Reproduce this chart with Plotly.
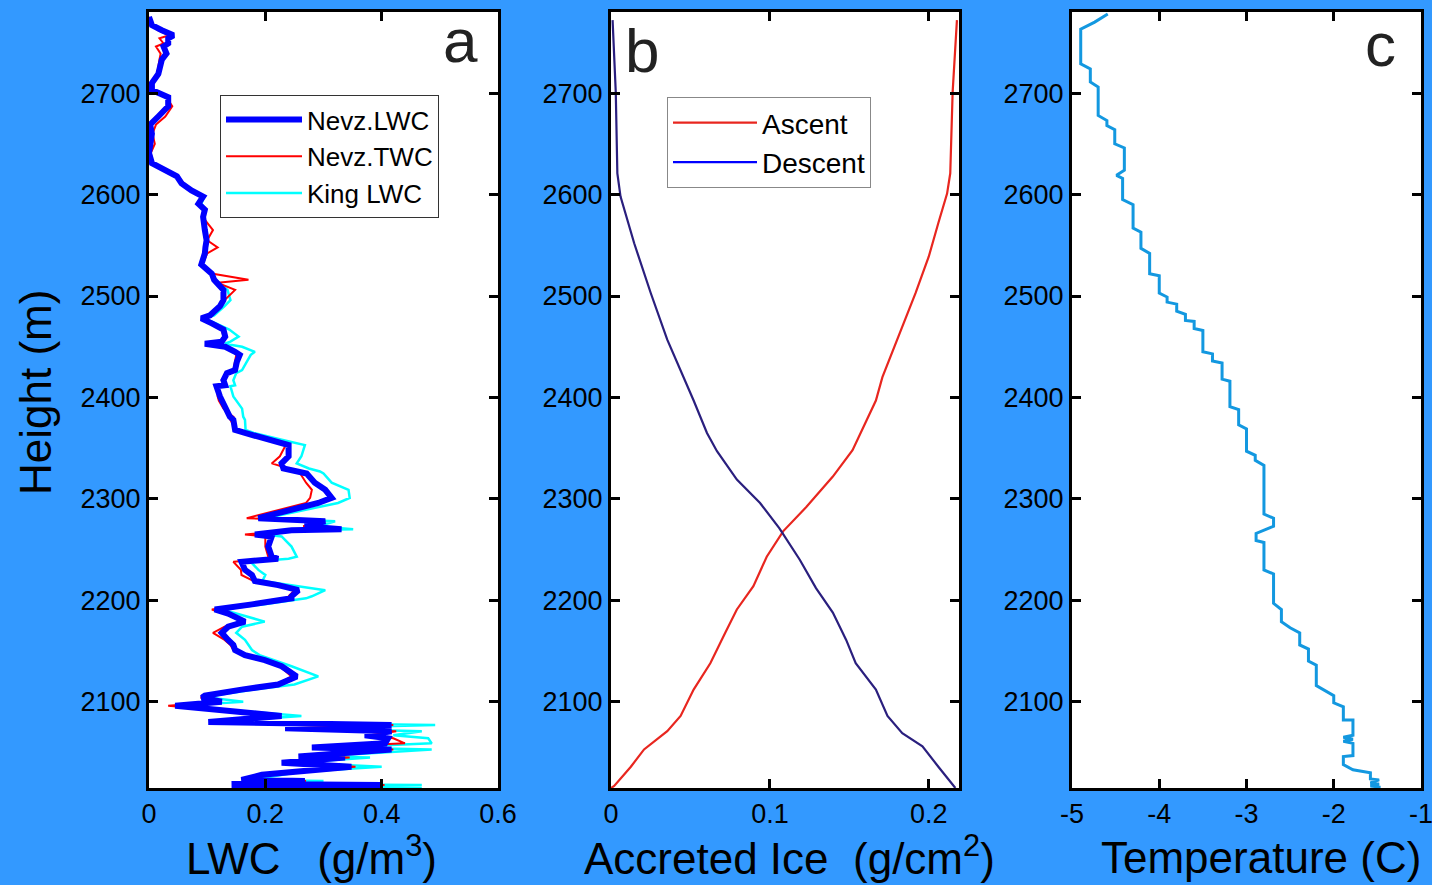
import plotly.graph_objects as go

# ---------------- Panel a : LWC profiles ----------------
lwc_height = [2775, 2767, 2762, 2757, 2754, 2749, 2746, 2739, 2733, 2719, 2710, 2703, 2696, 2687, 2677,
              2669, 2660, 2650, 2641, 2631, 2624, 2618, 2611, 2604, 2598, 2591, 2585, 2578, 2565, 2555,
              2548, 2542, 2531, 2522, 2516, 2513, 2506, 2496, 2490, 2481, 2478, 2473, 2467, 2460, 2455,
              2453, 2450, 2445, 2442, 2435, 2427, 2424, 2417, 2412, 2411, 2401, 2397, 2389, 2381, 2378,
              2368, 2365, 2358, 2353, 2342, 2335, 2330, 2327, 2325, 2316, 2309, 2301, 2296, 2281, 2278,
              2273, 2270, 2269, 2265, 2263, 2253, 2243, 2241, 2238, 2230, 2225, 2219, 2215, 2210, 2204,
              2202, 2196, 2191, 2187, 2179, 2174, 2168, 2161, 2156, 2151, 2146, 2141, 2135, 2125, 2117,
              2112, 2106, 2104, 2100, 2096, 2091, 2086, 2080, 2079, 2077, 2074, 2071, 2067, 2064, 2059,
              2055, 2053, 2046, 2045, 2040, 2036, 2031, 2028, 2023, 2022, 2019, 2018, 2017, 2015]
nevz_lwc = [0.000, 0.005, 0.022, 0.042, 0.033, 0.033, 0.025, 0.030, 0.022, 0.016, 0.005, 0.005, 0.033, 0.033, 0.016,
            0.002, 0.005, 0.002, 0.000, 0.005, 0.028, 0.048, 0.056, 0.073, 0.093, 0.085, 0.096, 0.093, 0.096, 0.099,
            0.097, 0.096, 0.090, 0.108, 0.112, 0.116, 0.128, 0.128, 0.122, 0.105, 0.090, 0.108, 0.128, 0.131, 0.125,
            0.096, 0.131, 0.148, 0.156, 0.151, 0.148, 0.134, 0.128, 0.131, 0.116, 0.122, 0.125, 0.131, 0.139, 0.145,
            0.148, 0.165, 0.211, 0.240, 0.240, 0.228, 0.231, 0.257, 0.271, 0.285, 0.303, 0.314, 0.291, 0.188, 0.303,
            0.268, 0.331, 0.245, 0.182, 0.211, 0.205, 0.211, 0.222, 0.159, 0.165, 0.177, 0.182, 0.222, 0.257, 0.245,
            0.245, 0.177, 0.113, 0.136, 0.165, 0.136, 0.125, 0.136, 0.145, 0.148, 0.165, 0.199, 0.228, 0.254, 0.222,
            0.159, 0.096, 0.091, 0.125, 0.045, 0.136, 0.228, 0.102, 0.234, 0.417, 0.234, 0.417, 0.371, 0.411, 0.406,
            0.280, 0.417, 0.257, 0.337, 0.228, 0.348, 0.234, 0.194, 0.159, 0.268, 0.142, 0.400, 0.142, 0.400]
nevz_twc = [0.000, 0.008, 0.015, 0.035, 0.018, 0.025, 0.012, 0.020, 0.018, 0.014, 0.004, 0.006, 0.030, 0.040, 0.028,
            0.012, 0.006, 0.010, 0.003, 0.006, 0.030, 0.050, 0.060, 0.072, 0.095, 0.088, 0.098, 0.092, 0.110, 0.100,
            0.118, 0.100, 0.092, 0.110, 0.171, 0.118, 0.148, 0.130, 0.122, 0.108, 0.092, 0.110, 0.125, 0.128, 0.122,
            0.100, 0.128, 0.145, 0.150, 0.148, 0.145, 0.135, 0.125, 0.130, 0.118, 0.118, 0.120, 0.128, 0.145, 0.140,
            0.150, 0.170, 0.210, 0.235, 0.225, 0.211, 0.240, 0.251, 0.260, 0.270, 0.280, 0.277, 0.270, 0.168, 0.300,
            0.265, 0.330, 0.240, 0.165, 0.200, 0.200, 0.205, 0.215, 0.145, 0.158, 0.159, 0.180, 0.220, 0.250, 0.240,
            0.245, 0.175, 0.108, 0.130, 0.160, 0.130, 0.110, 0.130, 0.140, 0.145, 0.160, 0.195, 0.225, 0.245, 0.220,
            0.160, 0.091, 0.090, 0.120, 0.033, 0.135, 0.225, 0.105, 0.240, 0.420, 0.240, 0.425, 0.380, 0.420, 0.440,
            0.285, 0.420, 0.265, 0.345, 0.235, 0.355, 0.240, 0.200, 0.165, 0.270, 0.145, 0.405, 0.145, 0.400]
king_lwc = [0.000, 0.005, 0.022, 0.042, 0.033, 0.033, 0.025, 0.030, 0.022, 0.016, 0.005, 0.005, 0.032, 0.033, 0.016,
            0.002, 0.004, 0.002, 0.000, 0.004, 0.026, 0.046, 0.055, 0.073, 0.095, 0.090, 0.097, 0.094, 0.097, 0.100,
            0.098, 0.097, 0.088, 0.110, 0.114, 0.120, 0.135, 0.140, 0.130, 0.112, 0.095, 0.115, 0.138, 0.154, 0.140,
            0.130, 0.160, 0.182, 0.175, 0.168, 0.160, 0.150, 0.145, 0.148, 0.140, 0.145, 0.150, 0.160, 0.162, 0.165,
            0.166, 0.180, 0.230, 0.268, 0.262, 0.254, 0.275, 0.294, 0.300, 0.314, 0.343, 0.345, 0.325, 0.200, 0.320,
            0.290, 0.351, 0.260, 0.200, 0.228, 0.245, 0.254, 0.240, 0.175, 0.188, 0.200, 0.195, 0.240, 0.303, 0.280,
            0.270, 0.195, 0.125, 0.150, 0.199, 0.160, 0.150, 0.165, 0.171, 0.177, 0.190, 0.215, 0.245, 0.291, 0.250,
            0.180, 0.110, 0.105, 0.162, 0.050, 0.150, 0.262, 0.110, 0.260, 0.492, 0.260, 0.469, 0.420, 0.480, 0.486,
            0.320, 0.486, 0.290, 0.380, 0.250, 0.400, 0.260, 0.230, 0.175, 0.300, 0.160, 0.469, 0.160, 0.469]

# ---------------- Panel b : accreted ice ----------------
ascent_height = [2772, 2701, 2621, 2601, 2572, 2539, 2503, 2460, 2420, 2397, 2348, 2322, 2292, 2268, 2243,
                 2214, 2191, 2168, 2138, 2112, 2086, 2071, 2053, 2036, 2017, 2015]
ascent_ice = [0.2177, 0.2150, 0.2135, 0.2115, 0.2060, 0.2000, 0.1917, 0.1810, 0.1708, 0.1667, 0.1520, 0.1396,
              0.1229, 0.1083, 0.0980, 0.0896, 0.0792, 0.0719, 0.0625, 0.0520, 0.0438, 0.0354, 0.0208, 0.0125,
              0.0020, 0.0000]
descent_height = [2772, 2701, 2621, 2598, 2552, 2503, 2457, 2420, 2397, 2365, 2347, 2319, 2296, 2271, 2240,
                  2212, 2188, 2161, 2138, 2112, 2086, 2069, 2056, 2036, 2015]
descent_ice = [0.0010, 0.0030, 0.0040, 0.0060, 0.0146, 0.0250, 0.0354, 0.0458, 0.0520, 0.0604, 0.0667, 0.0792,
               0.0938, 0.1060, 0.1188, 0.1290, 0.1396, 0.1480, 0.1540, 0.1667, 0.1740, 0.1833, 0.1960, 0.2060,
               0.2167]

# ---------------- Panel c : temperature ----------------
temp_height = [2778, 2770, 2763, 2729, 2724, 2711, 2706, 2678, 2673, 2668, 2664, 2650, 2646, 2624, 2619, 2616,
               2595, 2590, 2567, 2563, 2547, 2542, 2522, 2520, 2503, 2499, 2494, 2492, 2485, 2482, 2476, 2475,
               2468, 2466, 2445, 2443, 2436, 2434, 2418, 2416, 2391, 2388, 2373, 2369, 2347, 2343, 2338, 2333,
               2285, 2281, 2273, 2268, 2266, 2259, 2257, 2230, 2226, 2197, 2191, 2179, 2173, 2168, 2156, 2152,
               2140, 2136, 2116, 2106, 2099, 2095, 2082, 2082, 2067, 2065, 2063, 2061, 2059, 2047, 2046, 2038,
               2033, 2030, 2024, 2023, 2020, 2019, 2017, 2016, 2015]
temperature = [-4.59, -4.74, -4.90, -4.90, -4.79, -4.79, -4.70, -4.70, -4.60, -4.60, -4.51, -4.51, -4.40, -4.40,
               -4.49, -4.42, -4.42, -4.30, -4.30, -4.21, -4.21, -4.11, -4.11, -4.00, -4.00, -3.91, -3.91, -3.80,
               -3.80, -3.70, -3.70, -3.60, -3.60, -3.50, -3.50, -3.39, -3.39, -3.28, -3.28, -3.19, -3.19, -3.09,
               -3.09, -3.00, -3.00, -2.90, -2.90, -2.80, -2.80, -2.69, -2.69, -2.82, -2.89, -2.89, -2.80, -2.80,
               -2.69, -2.69, -2.60, -2.60, -2.50, -2.39, -2.39, -2.29, -2.29, -2.20, -2.20, -2.00, -2.00, -1.89,
               -1.89, -1.78, -1.78, -1.89, -1.78, -1.89, -1.78, -1.78, -1.89, -1.89, -1.78, -1.58, -1.58, -1.48,
               -1.58, -1.48, -1.58, -1.48, -1.48]

y_ticks = [2100, 2200, 2300, 2400, 2500, 2600, 2700]
y_range = [2015, 2780]

BG = "#3399FF"
FONT = "Liberation Sans, Arial, sans-serif"

fig = go.Figure()

# panel a
fig.add_trace(go.Scatter(x=king_lwc, y=lwc_height, mode="lines", name="King LWC",
                         line=dict(color="#00FFFF", width=2.5), xaxis="x", yaxis="y",
                         legend="legend", legendrank=3))
fig.add_trace(go.Scatter(x=nevz_twc, y=lwc_height, mode="lines", name="Nevz.TWC",
                         line=dict(color="#FF0000", width=2), xaxis="x", yaxis="y",
                         legend="legend", legendrank=2))
fig.add_trace(go.Scatter(x=nevz_lwc, y=lwc_height, mode="lines", name="Nevz.LWC",
                         line=dict(color="#0000FF", width=6), xaxis="x", yaxis="y",
                         legend="legend", legendrank=1))

# panel b
fig.add_trace(go.Scatter(x=ascent_ice, y=ascent_height, mode="lines", name="Ascent",
                         line=dict(color="#E8261F", width=2.2), xaxis="x2", yaxis="y2",
                         legend="legend2", legendrank=1))
fig.add_trace(go.Scatter(x=descent_ice, y=descent_height, mode="lines", name="Descent",
                         line=dict(color="#2A1F7E", width=2.2), xaxis="x2", yaxis="y2",
                         showlegend=False))
fig.add_trace(go.Scatter(x=[None], y=[None], mode="lines", name="Descent",
                         line=dict(color="#0000FF", width=2.2), xaxis="x2", yaxis="y2",
                         legend="legend2", legendrank=2))

# panel c
fig.add_trace(go.Scatter(x=temperature, y=temp_height, mode="lines", name="Temperature",
                         line=dict(color="#1398E0", width=3), xaxis="x3", yaxis="y3",
                         showlegend=False))

axis_common = dict(showline=True, linecolor="black", linewidth=3, mirror="allticks",
                   ticks="inside", ticklen=9, tickwidth=2.5, tickcolor="black",
                   showgrid=False, zeroline=False, automargin=False,
                   ticklabeloverflow="allow",
                   tickfont=dict(family=FONT, size=27, color="black"))

ydom = [1 - 788 / 885, 1 - 12 / 885]
xdoms = [[149 / 1432, 498 / 1432], [611 / 1432, 959 / 1432], [1072 / 1432, 1421 / 1432]]

fig.update_layout(
    width=1432, height=885,
    margin=dict(l=0, r=0, t=0, b=0, pad=0, autoexpand=False),
    paper_bgcolor=BG, plot_bgcolor="white",
    font=dict(family=FONT, color="black"),
    xaxis=dict(domain=xdoms[0], range=[0, 0.6], tickvals=[0, 0.2, 0.4, 0.6],
               ticktext=["0", "0.2", "0.4", "0.6"], anchor="y", **axis_common),
    yaxis=dict(domain=ydom, range=y_range, tickvals=y_ticks, anchor="x", **axis_common),
    xaxis2=dict(domain=xdoms[1], range=[0, 0.219], tickvals=[0, 0.1, 0.2],
                ticktext=["0", "0.1", "0.2"], anchor="y2", **axis_common),
    yaxis2=dict(domain=ydom, range=y_range, tickvals=y_ticks, anchor="x2", **axis_common),
    xaxis3=dict(domain=xdoms[2], range=[-5, -1], tickvals=[-5, -4, -3, -2, -1],
                ticktext=["-5", "-4", "-3", "-2", "-1"], anchor="y3", **axis_common),
    yaxis3=dict(domain=ydom, range=y_range, tickvals=y_ticks, anchor="x3", **axis_common),
    legend=dict(x=220 / 1432, y=1 - 95 / 885, xanchor="left", yanchor="top",
                bgcolor="white", bordercolor="#333333", borderwidth=1,
                font=dict(family=FONT, size=26, color="black"), itemwidth=76,
                tracegroupgap=0),
    legend2=dict(x=667 / 1432, y=1 - 97 / 885, xanchor="left", yanchor="top",
                 bgcolor="white", bordercolor="#888888", borderwidth=1,
                 font=dict(family=FONT, size=28, color="black"), itemwidth=84,
                 tracegroupgap=0),
    showlegend=True,
)

annotations = [
    dict(text="a", x=460 / 1432, y=1 - 40 / 885, font=dict(size=62, color="#222222")),
    dict(text="b", x=642 / 1432, y=1 - 50 / 885, font=dict(size=62, color="#222222")),
    dict(text="c", x=1380 / 1432, y=1 - 45 / 885, font=dict(size=62, color="#222222")),
    dict(text="LWC\u00a0\u00a0\u00a0(g/m<sup>3</sup>)", x=311 / 1432, y=1 - 855 / 885,
         font=dict(size=44, color="black")),
    dict(text="Accreted Ice\u00a0\u00a0(g/cm<sup>2</sup>)", x=789 / 1432, y=1 - 855 / 885,
         font=dict(size=44, color="black")),
    dict(text="Temperature (C)", x=1261 / 1432, y=1 - 857 / 885,
         font=dict(size=44, color="black")),
    dict(text="Height (m)", x=35 / 1432, y=1 - 393 / 885, textangle=-90,
         font=dict(size=44, color="black")),
]
for a in annotations:
    a.update(xref="paper", yref="paper", showarrow=False, xanchor="center", yanchor="middle")
    a["font"]["family"] = FONT
fig.update_layout(annotations=annotations)

fig.write_html("out.html")
